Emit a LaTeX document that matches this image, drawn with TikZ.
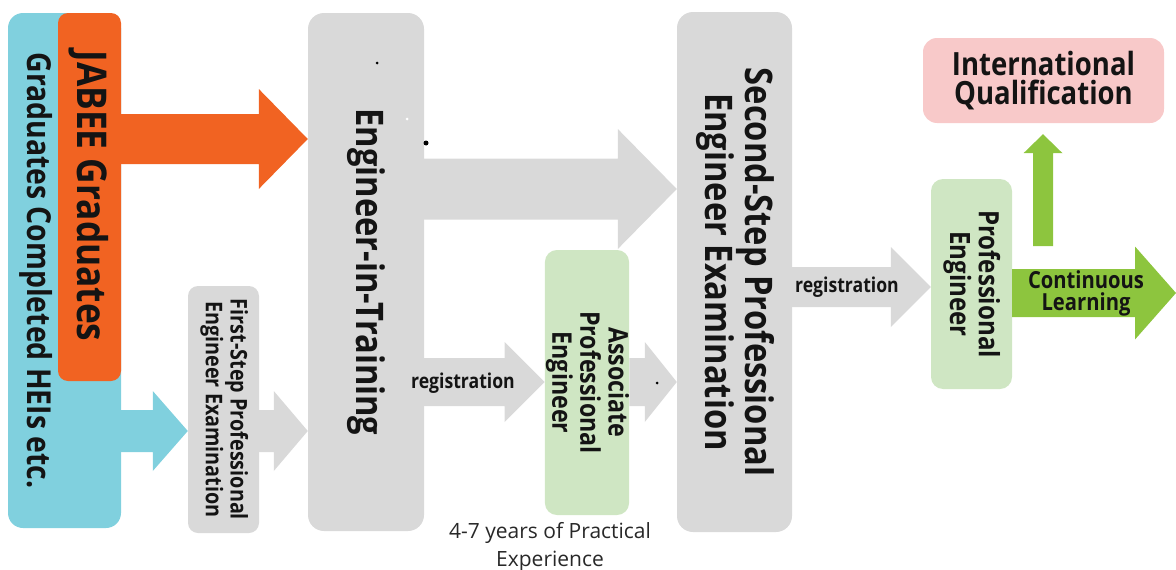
\documentclass[tikz,border=0pt]{standalone}
\usepackage{fontspec}
\setmainfont{Open Sans}[FakeStretch=0.86]
\newfontfamily\plainfont{Open Sans}
\usetikzlibrary{calc}
\definecolor{cyanc}{RGB}{128,208,222}
\definecolor{orangec}{RGB}{241,99,34}
\definecolor{grayc}{RGB}{217,217,217}
\definecolor{lgreen}{RGB}{207,230,195}
\definecolor{pinkc}{RGB}{248,201,201}
\definecolor{greenc}{RGB}{141,197,62}
\definecolor{txt}{RGB}{20,20,20}
\newcommand\vtext[1]{\rotatebox{-90}{\begin{tabular}{@{}c@{}}#1\end{tabular}}}
\newcommand\fs[2]{\fontsize{#1}{#2}\selectfont}
% horizontal block arrow: colour, from anchor, to anchor, y, shaft half, head half, head length
\newcommand\harrow[7]{%
  \fill[#1] let \p1=(#2), \p2=(#3) in
    (\x1,{#4-#5}) -- ({\x2-#7},{#4-#5}) -- ({\x2-#7},{#4-#6}) -- (\x2,#4) --
    ({\x2-#7},{#4+#6}) -- ({\x2-#7},{#4+#5}) -- (\x1,{#4+#5}) -- cycle;}
\begin{document}
\begin{tikzpicture}[x=1pt,y=-1pt,
  box/.style={rectangle, rounded corners=#1, inner sep=0pt, draw=none, text=txt},
  box/.default=12,
  lbl/.style={inner sep=0pt, text=txt}]
\useasboundingbox (0,0) rectangle (1176,570);
% boxes
\node[box=15, fill=cyanc, minimum width=113pt, minimum height=515pt] (cyan) at (64.5,270.5) {};
\node[box=10, fill=orangec, minimum width=63pt, minimum height=368pt] (orange) at (89.5,197) {};
\node[lbl, font=\bfseries\fs{41}{36}] (jabee) at (88,196) {\vtext{JABEE Graduates}};
\node[lbl, font=\bfseries\fs{33}{30}] (hei) at (36,270.5) {\vtext{Graduates Completed HEIs etc.}};
\node[box=10, fill=grayc, minimum width=71pt, minimum height=247pt, font=\bfseries\fs{23}{24}] (first) at (223.5,409.5) {\vtext{First-Step Professional\\Engineer Examination}};
\node[box=16, fill=grayc, minimum width=116pt, minimum height=518pt, font=\bfseries\fs{38}{35}] (eit) at (366,272) {\vtext{Engineer-in-Training}};
\node[box=16, fill=grayc, minimum width=115pt, minimum height=520pt, font=\bfseries\fs{38}{36}] (second) at (734.5,272) {\vtext{Second-Step Professional\\Engineer Examination}};
\node[box=12, fill=lgreen, minimum width=80pt, minimum height=265pt, font=\bfseries\fs{27}{25}] (ape) at (587,382.5) {\vtext{Associate\\Professional\\Engineer}};
\node[box=12, fill=lgreen, minimum width=81pt, minimum height=210pt, font=\bfseries\fs{28}{25}] (pe) at (971.5,284) {\vtext{Professional\\Engineer}};
\node[box=14, fill=pinkc, minimum width=241pt, minimum height=85pt, font=\bfseries\fs{32}{29}, align=center] (iq) at (1043.5,80.5) {International\\Qualification};
% arrows
\harrow{orangec}{orange.east}{eit.west}{139}{25}{50}{49}
\harrow{cyanc}{cyan.east}{first.west}{431}{21}{40}{35}
\harrow{grayc}{first.east}{eit.west}{431}{21}{40}{34}
\harrow{grayc}{eit.east}{second.west}{189}{30.5}{60}{59}
\harrow{grayc}{eit.east}{ape.west}{382}{24}{40}{40}
\harrow{grayc}{ape.east}{second.west}{382}{24}{40}{32}
\harrow{grayc}{second.east}{pe.west}{287}{20}{40}{40}
\coordinate (edge) at (1176,293);
\harrow{greenc}{pe.east}{edge}{293}{24}{46.5}{41}
\coordinate (upbase) at (1043,246);
\coordinate (uptip) at ($(iq.south)+(-0.5,11)$);
\fill[greenc] let \p1=(upbase), \p2=(uptip) in
  ({\x1-10},\y1) -- ({\x1-10},{\y2-19}) -- ({\x1-19.5},{\y2-19}) -- (\x1,\y2) --
  ({\x1+19.5},{\y2-19}) -- ({\x1+10},{\y2-19}) -- ({\x1+10},\y1) -- cycle;
% arrow labels
\node[lbl, font=\bfseries\fs{20.5}{20}] (reg1) at (463,383) {registration};
\node[lbl, font=\bfseries\fs{20.5}{20}] (reg2) at (847,287) {registration};
\node[lbl, font=\bfseries\fs{23.5}{22}, align=center] (cl) at (1086,293) {Continuous\\Learning};
\node[lbl, font=\plainfont\fs{21}{28}, align=center, text={rgb,255:red,40;green,40;blue,40}] (exp) at (550,547) {4-7 years of Practical\\Experience};
% stray dots
\fill[black] (377,63) circle (1.5);
\fill[white] (407,119) circle (1.5);
\fill[black] (426,143) circle (2.5);
\fill[black] (657,383) circle (1.5);
\end{tikzpicture}
\end{document}
